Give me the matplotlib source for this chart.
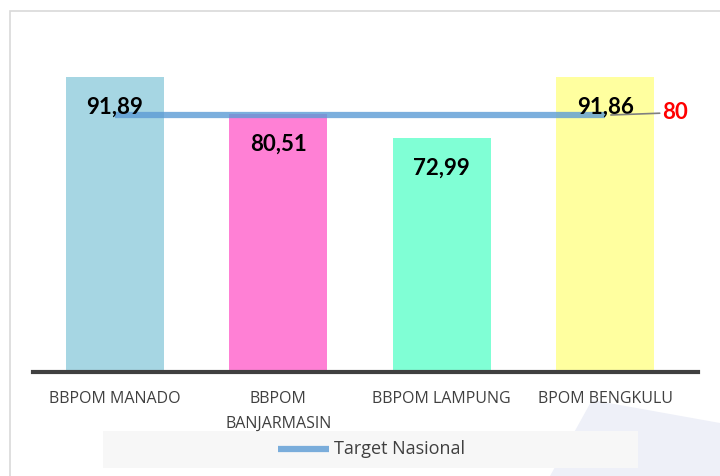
import matplotlib
matplotlib.use("Agg")
import matplotlib.pyplot as plt
from matplotlib.patches import Rectangle, Polygon
from matplotlib.lines import Line2D

# data
offices = ["BBPOM MANADO", "BBPOM\nBANJARMASIN", "BBPOM LAMPUNG", "BPOM BENGKULU"]
scores = [91.89, 80.51, 72.99, 91.86]
target = [80, 80, 80, 80]
bar_colors = ["#a6d6e3", "#ff80d5", "#80ffd5", "#ffff9f"]

fig = plt.figure(figsize=(7.2, 4.76), dpi=100)
W, H = 720, 476

# background decoration + frame (figure coords), kept behind the axes
fig.patches.append(Polygon([(592 / W, 1 - 400 / H), (1.0, 1 - 423 / H), (1.0, 0.0), (550 / W, 0.0)],
                           closed=True, transform=fig.transFigure, facecolor="#eef0f8",
                           edgecolor="none", zorder=-3))
fig.patches.append(Rectangle((10 / W, -0.1), 1.0, 1.1 - 11 / H, transform=fig.transFigure,
                             facecolor="none", edgecolor="#d9d9d9", linewidth=1.2, zorder=-3))

# legend box
fig.patches.append(Rectangle((103 / W, 1 - 468 / H), (638 - 103) / W, 37 / H, transform=fig.transFigure,
                             facecolor="#f7f7f7", edgecolor="none", zorder=-2))
fig.lines.append(Line2D([278 / W, 329 / W], [1 - 449 / H, 1 - 449 / H], transform=fig.transFigure,
                        color="#5b9bd5", alpha=0.8, linewidth=4.5, solid_capstyle="butt", zorder=-1))
fig.text(334 / W, 1 - 449 / H, "Target Nasional", ha="left", va="center", fontsize=13,
         family="Open Sans", color="#404040")

ax = fig.add_axes([33 / W, 1 - 372 / H, (698 - 33) / W, 321 / H])
ax.set_facecolor("none")

x = list(range(len(offices)))
ax.bar(x, scores, width=0.6, color=bar_colors, zorder=2)

# target line
ax.plot(x, target, color="#5b9bd5", alpha=0.8, linewidth=4.5, solid_capstyle="butt", zorder=3)

for xi, v in zip(x, scores):
    ax.text(xi, v - 9.5, f"{v:.2f}".replace(".", ","), ha="center", va="center",
            fontsize=16, fontweight="bold", family="Lato", color="black", zorder=4)

# leader line and target label
ax.annotate(str(target[-1]), xy=(x[-1], target[-1]), xytext=(x[-1] + 0.35, target[-1] + 0.8),
            ha="left", va="center", fontsize=16, fontweight="bold", family="Lato", color="red",
            arrowprops=dict(arrowstyle="-", color="#808080", linewidth=1.2, shrinkA=0, shrinkB=4),
            zorder=4)

ax.set_xlim(-0.5, 3.567)
ax.set_ylim(0, 100)
ax.set_xticks(x)
ax.set_xticklabels(offices, fontsize=11.5, family="Open Sans", color="#404040", linespacing=1.7)
ax.tick_params(axis="x", length=0, pad=14)
ax.set_yticks([])
for side in ["top", "right", "left"]:
    ax.spines[side].set_visible(False)
ax.spines["bottom"].set_color("#404040")
ax.spines["bottom"].set_linewidth(3)

fig.savefig("out.png", dpi=100)
